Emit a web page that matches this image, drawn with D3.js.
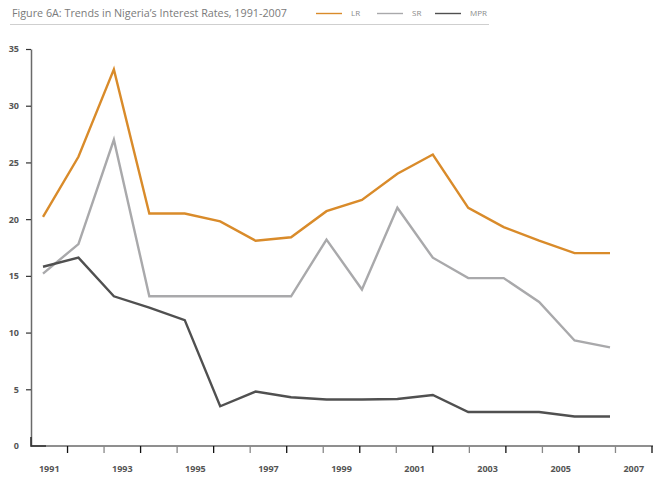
<!DOCTYPE html>
<html>
<head>
<meta charset="utf-8">
<script src="https://cdn.jsdelivr.net/npm/d3@7"></script>
<style>
  body { margin: 0; background: #fff; }
  text { font-family: "Open Sans", "Noto Sans", sans-serif; }
</style>
</head>
<body>
<div class="chart"></div>
<script>
// values
const years = [1991, 1992, 1993, 1994, 1995, 1996, 1997, 1998, 1999, 2000,
               2001, 2002, 2003, 2004, 2005, 2006, 2007];
const lr  = [20.2, 25.5, 33.2, 20.5, 20.5, 19.8, 18.1, 18.4, 20.7, 21.7,
             24.0, 25.7, 21.0, 19.3, 18.1, 17.0, 17.0];
const sr  = [15.2, 17.8, 27.0, 13.2, 13.2, 13.2, 13.2, 13.2, 18.2, 13.8,
             21.0, 16.6, 14.8, 14.8, 12.7, 9.3, 8.7];
const mpr = [15.8, 16.6, 13.2, 12.2, 11.1, 3.5, 4.8, 4.3, 4.1, 4.1,
             4.15, 4.5, 3.0, 3.0, 3.0, 2.6, 2.6];
const seriesNames = ["LR", "SR", "MPR"];
const yTicks = [0, 5, 10, 15, 20, 25, 30, 35];
const xLabels = [1991, 1993, 1995, 1997, 1999, 2001, 2003, 2005, 2007];

const colors = {LR: "#d98b2a", SR: "#a9a9ab", MPR: "#505050"};
const series = [
    {name: "LR", values: lr},
    {name: "SR", values: sr},
    {name: "MPR", values: mpr}
];

const width = 658, height = 477;

const svg = d3.select(".chart").append("svg")
    .attr("width", width)
    .attr("height", height);

// title + legend strip
svg.append("text")
    .attr("x", 12)
    .attr("y", 16.5)
    .attr("font-size", 10.5)
    .attr("fill", "#7a7a7a")
    .attr("textLength", 275)
    .attr("lengthAdjust", "spacingAndGlyphs")
    .text("Figure 6A: Trends in Nigeria\u2019s Interest Rates, 1991-2007");

svg.append("line")
    .attr("x1", 10).attr("x2", 489)
    .attr("y1", 24.5).attr("y2", 24.5)
    .attr("stroke", "#cfcfcf")
    .attr("stroke-width", 1);

const legendX = d3.scaleOrdinal().domain(seriesNames).range([316, 377, 435]);

const legend = svg.append("g")
    .selectAll("g")
    .data(seriesNames)
    .join("g")
    .attr("transform", d => `translate(${legendX(d)},13.5)`);

legend.append("line")
    .attr("x2", 26)
    .attr("stroke", d => colors[d])
    .attr("stroke-width", 1.4);

legend.append("text")
    .attr("x", d => d === "LR" ? 35 : d === "SR" ? 35 : 35)
    .attr("dy", "0.35em")
    .attr("font-size", 8)
    .attr("fill", "#8a8a8a")
    .text(d => d);

// scales
const xBand = d3.scaleBand()
    .domain(years)
    .range([31, 652])
    .padding(0);

const xPoint = d3.scalePoint()
    .domain(years)
    .range([43, 610]);

const y = d3.scaleLinear()
    .domain([0, 35])
    .range([446, 49]);

// y axis
svg.append("g")
    .attr("transform", "translate(31,0)")
    .call(d3.axisLeft(y).tickValues(yTicks).tickSize(5).tickSizeOuter(0).tickPadding(7))
    .call(g => g.select(".domain").attr("stroke", "#6a6a6a").attr("stroke-width", 1.5))
    .call(g => g.selectAll(".tick line").attr("stroke", "#333").attr("stroke-width", 1.2))
    .call(g => g.selectAll(".tick").filter(d => d === 0).select("line").remove())
    .call(g => g.selectAll(".tick text")
        .attr("font-size", 9)
        .attr("font-weight", "bold")
        .attr("fill", "#555"));

// x axis
const xAxis = svg.append("g")
    .attr("transform", "translate(0,446)");

xAxis.append("line")
    .attr("x1", 31).attr("x2", 653)
    .attr("stroke", "#6a6a6a")
    .attr("stroke-width", 1.5);

xAxis.selectAll(".xtick")
    .data(years)
    .join("line")
    .attr("class", "xtick")
    .attr("x1", d => xBand(d) + xBand.bandwidth())
    .attr("x2", d => xBand(d) + xBand.bandwidth())
    .attr("y1", 0).attr("y2", 7)
    .attr("stroke", (d, i) => i % 2 === 0 ? "#111" : "#888")
    .attr("stroke-width", 1.3);

xAxis.call(d3.axisBottom(xBand).tickValues(xLabels).tickSize(0).tickPadding(20))
    .call(g => g.select(".domain").remove())
    .call(g => g.selectAll(".tick text")
        .attr("font-size", 9)
        .attr("font-weight", "bold")
        .attr("fill", "#555"));

// dark corner at the origin
svg.append("path")
    .attr("d", `M31,${y(0.8)}V${y(0)}H46`)
    .attr("fill", "none")
    .attr("stroke", "#333")
    .attr("stroke-width", 1.6);

// lines
const line = d3.line()
    .x((d, i) => xPoint(years[i]))
    .y(d => y(d));

svg.append("g")
    .selectAll("path")
    .data(series)
    .join("path")
    .attr("fill", "none")
    .attr("stroke", d => colors[d.name])
    .attr("stroke-width", 2.4)
    .attr("stroke-linejoin", "miter")
    .attr("d", d => line(d.values));
</script>
</body>
</html>
